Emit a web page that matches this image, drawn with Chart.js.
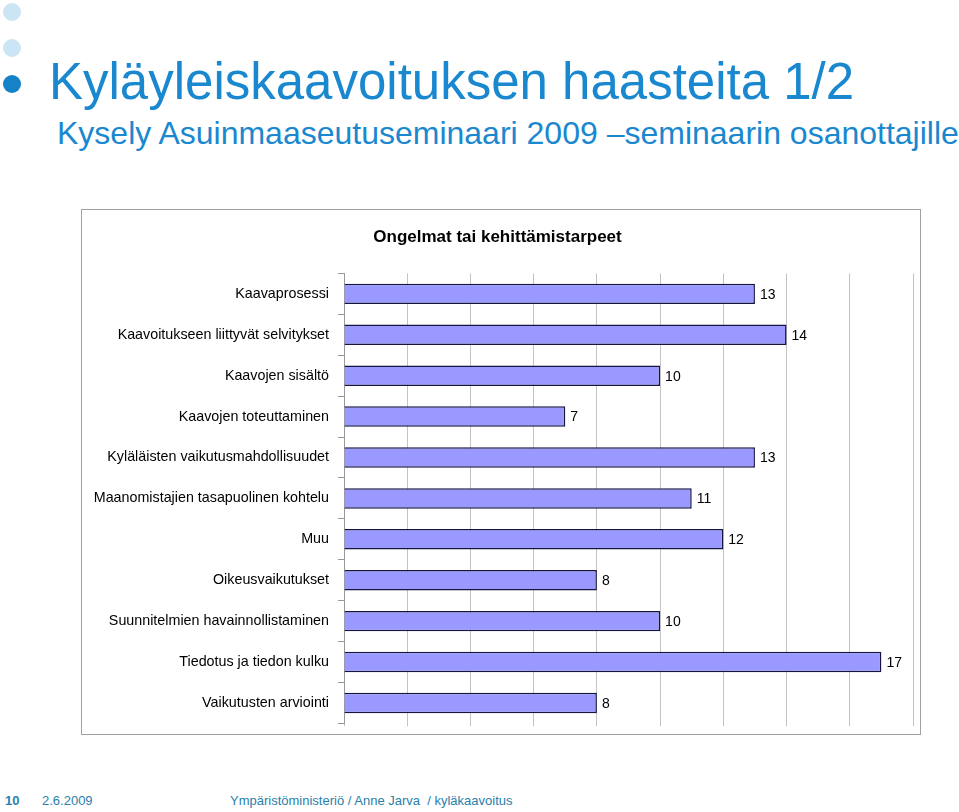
<!DOCTYPE html>
<html>
<head>
<meta charset="utf-8">
<script src="https://cdn.jsdelivr.net/npm/chart.js@4"></script>
<style>
  body { margin: 0; width: 959px; height: 812px; background: #fff; position: relative; overflow: hidden;
         font-family: "Liberation Sans", Arial, sans-serif; }
  .dot { position: absolute; width: 18px; height: 18px; border-radius: 50%; }
  .txt { position: absolute; white-space: nowrap; color: #1a88cf; }
  #frame { position: absolute; left: 81px; top: 209px; width: 838px; height: 524px; border: 1px solid #a0a0a0; }
  #wrap { position: absolute; left: 0; top: 0; width: 840px; height: 531px; }
  .foot { position: absolute; top: 793px; font-size: 13px; color: #2a80aa; white-space: nowrap; }
</style>
</head>
<body>
<div class="dot" style="left:3px;top:3px;background:#cbe5f4"></div>
<div class="dot" style="left:3px;top:39px;background:#cbe5f4"></div>
<div class="dot" style="left:3px;top:75px;background:#1582c8"></div>
<div class="txt" style="left:49px;top:52px;font-size:51px;">Kyläyleiskaavoituksen haasteita 1/2</div>
<div class="txt" style="left:57px;top:115px;font-size:32px;">Kysely Asuinmaaseutuseminaari 2009 –seminaarin osanottajille</div>

<div id="frame"><div id="wrap"><canvas id="chart"></canvas></div></div>

<div class="foot" style="left:5px;font-weight:bold;">10</div>
<div class="foot" style="left:42px;">2.6.2009</div>
<div class="foot" style="left:230px;">Ympäristöministeriö / Anne Jarva&nbsp; / kyläkaavoitus</div>

<script>
// chart data
const categories = [
  'Kaavaprosessi',
  'Kaavoitukseen liittyvät selvitykset',
  'Kaavojen sisältö',
  'Kaavojen toteuttaminen',
  'Kyläläisten vaikutusmahdollisuudet',
  'Maanomistajien tasapuolinen kohtelu',
  'Muu',
  'Oikeusvaikutukset',
  'Suunnitelmien havainnollistaminen',
  'Tiedotus ja tiedon kulku',
  'Vaikutusten arviointi'
];
const answers = [13, 14, 10, 7, 13, 11, 12, 8, 10, 17, 8];
const xMax = 18;
const xStep = 2;

const FONT = '"Liberation Sans", Arial, sans-serif';

// draws the value right of each bar
const valueLabels = {
  id: 'valueLabels',
  afterDatasetsDraw(chart) {
    const ctx = chart.ctx;
    const meta = chart.getDatasetMeta(0);
    ctx.save();
    ctx.font = '14px ' + FONT;
    ctx.fillStyle = '#000';
    ctx.textAlign = 'left';
    ctx.textBaseline = 'middle';
    meta.data.forEach((bar, i) => {
      ctx.fillText(String(answers[i]), bar.x + 5, bar.y + 1);
    });
    ctx.restore();
  }
};

new Chart(document.getElementById('chart'), {
  type: 'bar',
  data: {
    labels: categories,
    datasets: [{
      data: answers,
      backgroundColor: '#9999ff',
      borderColor: '#15153f',
      borderWidth: 1.5,
      barPercentage: 0.5,
      categoryPercentage: 1
    }]
  },
  options: {
    indexAxis: 'y',
    responsive: true,
    maintainAspectRatio: false,
    animation: false,
    layout: { padding: { left: 0, right: 9, top: 0, bottom: 0 } },
    plugins: {
      legend: { display: false },
      tooltip: { enabled: false },
      title: {
        display: true,
        text: 'Ongelmat tai kehittämistarpeet',
        color: '#000',
        font: { family: FONT, size: 17, weight: 'bold' },
        padding: { top: 17, bottom: 26 }
      }
    },
    scales: {
      x: {
        min: 0,
        max: xMax,
        ticks: { display: false, stepSize: xStep },
        grid: { color: '#c4c4c4', lineWidth: 1, tickLength: 3 },
        border: { display: false }
      },
      y: {
        grid: { drawOnChartArea: false, drawTicks: true, tickLength: 6, color: '#999' },
        border: { display: true, color: '#999' },
        ticks: {
          color: '#000',
          padding: 9,
          font: { family: FONT, size: 14.3 }
        },
        afterFit: (scale) => { scale.width = 262; }
      }
    }
  },
  plugins: [valueLabels]
});
</script>
</body>
</html>
